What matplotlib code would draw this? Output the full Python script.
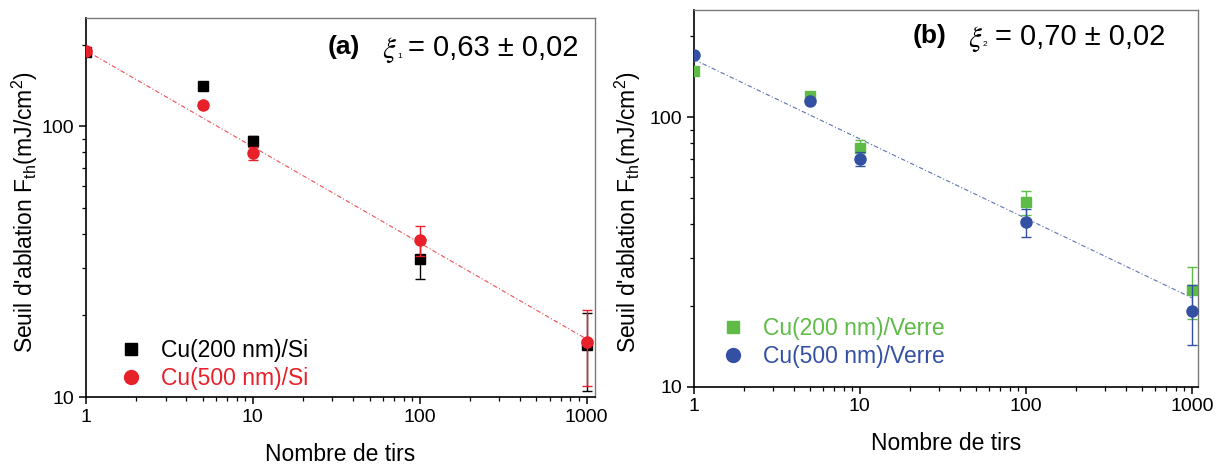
import numpy as np
import matplotlib
matplotlib.use('Agg')
import matplotlib.pyplot as plt
from matplotlib.ticker import LogLocator, NullFormatter

plt.rcParams['font.family'] = ['Liberation Sans', 'DejaVu Sans']
plt.rcParams['mathtext.fontset'] = 'custom'
plt.rcParams['mathtext.rm'] = 'Liberation Sans'
plt.rcParams['mathtext.it'] = 'Liberation Sans'

# number of shots
shots = [1, 5, 10, 100, 1000]

# (a) Cu on Si
si_200 = [188, 141, 88, 32.2, 15.5]
si_200_err = [3, 3, 4, 5, 5]
si_500 = [190, 119.5, 79.5, 37.9, 16.0]
si_500_err = [4, 3, 4.5, 4.8, 5]
fit_si = (190, -0.355)

# (b) Cu on glass
verre_200 = [149, 120, 77, 48.4, 22.8]
verre_200_err = [3, 3, 5, 5, 5]
verre_500 = [170, 115, 70.1, 40.8, 19.1]
verre_500_err = [3, 2, 4.3, 5, 4.8]
fit_verre = (164, -0.295)

xticks = [1, 10, 100, 1000]
xtick_labels = ['1', '10', '100', '1000']
yticks = [10, 100]
ytick_labels = ['10', '100']

RED = '#e8202a'
GREEN = '#5dbb46'
BLUE = '#3350a3'

fig = plt.figure(figsize=(12.19, 4.66), dpi=100)
ax_a = fig.add_axes([0.0705, 0.148, 0.4175, 0.8127])
ax_b = fig.add_axes([0.569, 0.1702, 0.4138, 0.8083])


def style_axes(ax, xmax):
    ax.set_xscale('log')
    ax.set_yscale('log')
    ax.set_xlim(1, xmax)
    ax.set_ylim(10, 250)
    ax.set_xticks(xticks, labels=xtick_labels)
    ax.set_yticks(yticks, labels=ytick_labels)
    ax.xaxis.set_minor_locator(LogLocator(base=10, subs=np.arange(2, 10)))
    ax.yaxis.set_minor_locator(LogLocator(base=10, subs=np.arange(2, 10)))
    ax.xaxis.set_minor_formatter(NullFormatter())
    ax.yaxis.set_minor_formatter(NullFormatter())
    ax.tick_params(which='major', direction='out', length=5, width=1.1,
                   labelsize=14, top=False, right=False)
    ax.tick_params(which='minor', direction='out', length=3, width=0.9,
                   top=False, right=False)
    for s in ['left', 'bottom']:
        ax.spines[s].set_linewidth(1.2)
        ax.spines[s].set_color('black')
    for s in ['top', 'right']:
        ax.spines[s].set_linewidth(1.0)
        ax.spines[s].set_color('#7a7a7a')
    ax.set_xlabel('Nombre de tirs', fontsize=16.5, labelpad=12)
    ax.set_ylabel(r"Seuil d'ablation F$_{\mathrm{th}}$(mJ/cm$^{2}$)", fontsize=16.5, labelpad=4)


def draw_series(ax, y, err, marker, color, ms, label, z):
    ax.errorbar(shots, y, yerr=err, fmt='none', ecolor=color, capsize=3.5,
                elinewidth=1, capthick=1, zorder=z)
    ax.plot(shots, y, ls='none', marker=marker, color=color, ms=ms,
            label=label, zorder=z)


x_fit = np.array([shots[0], shots[-1]], dtype=float)

# panel (a)
ax = ax_a
ax.plot(x_fit, fit_si[0] * x_fit ** fit_si[1], color=RED, lw=0.8,
        dashes=(4, 2, 1, 2), alpha=0.8, zorder=2)
draw_series(ax, si_200, si_200_err, 's', 'black', 7, 'Cu(200 nm)/Si', 3)
draw_series(ax, si_500, si_500_err, 'o', RED, 8, 'Cu(500 nm)/Si', 4)
style_axes(ax, 1120)
ax.yaxis.set_label_coords(-0.09, 0.488)
ax.legend(loc='lower left', bbox_to_anchor=(0.025, -0.035), frameon=False,
          fontsize=16.5, handlelength=1.0, handletextpad=0.8, markerscale=1.25,
          labelspacing=0.2, labelcolor='linecolor')

# panel (b)
ax = ax_b
ax.plot(x_fit, fit_verre[0] * x_fit ** fit_verre[1], color=BLUE, lw=0.8,
        dashes=(4, 2, 1, 2), alpha=0.8, zorder=2)
draw_series(ax, verre_200, verre_200_err, 's', GREEN, 7, 'Cu(200 nm)/Verre', 3)
draw_series(ax, verre_500, verre_500_err, 'o', BLUE, 8, 'Cu(500 nm)/Verre', 4)
style_axes(ax, 1090)
ax.yaxis.set_label_coords(-0.1, 0.464)
ax.legend(loc='lower left', bbox_to_anchor=(0.015, -0.005), frameon=False,
          fontsize=16.5, handlelength=1.0, handletextpad=0.8, markerscale=1.25,
          labelspacing=0.2, labelcolor='linecolor')

# annotations (figure pixel positions)
W, H = 1219, 466


def put(px, py, s, **kw):
    fig.text(px / W, 1 - py / H, s, va='center', ha='left', **kw)


put(328, 47, '(a)', fontsize=19, fontweight='bold')
put(382, 50, r'$\xi$', fontsize=21, math_fontfamily='stix')
put(397, 56, '1', fontsize=6)
put(408, 48, '= 0,63 ± 0,02', fontsize=21)

put(913, 36, '(b)', fontsize=19, fontweight='bold')
put(968, 39, r'$\xi$', fontsize=21, math_fontfamily='stix')
put(983, 45, '2', fontsize=6)
put(995, 37, '= 0,70 ± 0,02', fontsize=21)

fig.savefig('out.png', dpi=100)
